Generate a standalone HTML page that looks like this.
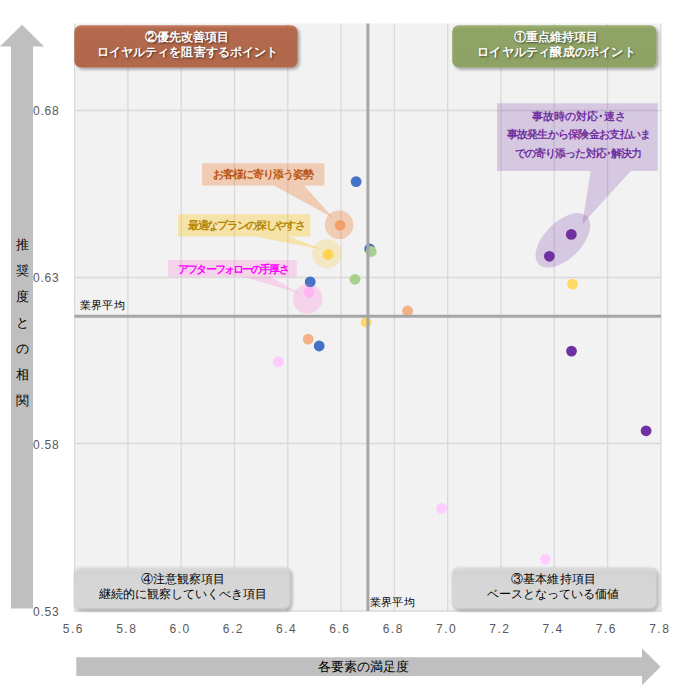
<!DOCTYPE html>
<html><head><meta charset="utf-8"><style>
html,body{margin:0;padding:0;background:#fff;}
body{width:686px;height:693px;position:relative;overflow:hidden;font-family:"Liberation Sans",sans-serif;}
.t{position:absolute;text-align:center;white-space:nowrap;}
svg{position:absolute;left:0;top:0;}
</style></head><body>
<svg width="686" height="693" viewBox="0 0 686 693">
<defs>
<filter id="sh" x="-10%" y="-30%" width="120%" height="170%">
<feDropShadow dx="2" dy="2" stdDeviation="1.8" flood-color="#000" flood-opacity="0.35"/>
</filter>
<linearGradient id="gO" x1="0" y1="0" x2="0" y2="1">
<stop offset="0" stop-color="#c47658"/><stop offset="0.08" stop-color="#b26546"/><stop offset="1" stop-color="#b06345"/>
</linearGradient>
<linearGradient id="gG" x1="0" y1="0" x2="0" y2="1">
<stop offset="0" stop-color="#9db070"/><stop offset="0.08" stop-color="#8ca261"/><stop offset="1" stop-color="#8ba060"/>
</linearGradient>
<filter id="bl1" x="-5%" y="-20%" width="110%" height="140%"><feGaussianBlur stdDeviation="1.1"/></filter>
<filter id="bl2" x="-5%" y="-20%" width="110%" height="140%"><feGaussianBlur stdDeviation="1.5"/></filter>
<linearGradient id="gGr" x1="0" y1="0" x2="0" y2="1">
<stop offset="0" stop-color="#dedede"/><stop offset="0.12" stop-color="#d2d2d2"/><stop offset="0.3" stop-color="#d6d6d6"/><stop offset="1" stop-color="#d8d8d8"/>
</linearGradient>
</defs>
<polygon points="22,24.8 44.2,46.6 33,46.6 33,608.6 11,608.6 11,46.6 -0.2,46.6" fill="#bfbfbf"/>
<polygon points="76.3,657.2 642,657.2 642,648.3 660.6,666.7 642,685.3 642,676 76.3,676" fill="#bfbfbf"/>
<rect x="74.5" y="23.5" width="586.5" height="587.5" fill="#f2f2f2"/>
<line x1="74.6" y1="23.5" x2="74.6" y2="611.5" stroke="#d9d9d9" stroke-width="1.3"/>
<line x1="127.9" y1="23.5" x2="127.9" y2="611.5" stroke="#d9d9d9" stroke-width="1.3"/>
<line x1="181.2" y1="23.5" x2="181.2" y2="611.5" stroke="#d9d9d9" stroke-width="1.3"/>
<line x1="234.5" y1="23.5" x2="234.5" y2="611.5" stroke="#d9d9d9" stroke-width="1.3"/>
<line x1="287.8" y1="23.5" x2="287.8" y2="611.5" stroke="#d9d9d9" stroke-width="1.3"/>
<line x1="341.1" y1="23.5" x2="341.1" y2="611.5" stroke="#d9d9d9" stroke-width="1.3"/>
<line x1="394.4" y1="23.5" x2="394.4" y2="611.5" stroke="#d9d9d9" stroke-width="1.3"/>
<line x1="447.7" y1="23.5" x2="447.7" y2="611.5" stroke="#d9d9d9" stroke-width="1.3"/>
<line x1="501.0" y1="23.5" x2="501.0" y2="611.5" stroke="#d9d9d9" stroke-width="1.3"/>
<line x1="554.3" y1="23.5" x2="554.3" y2="611.5" stroke="#d9d9d9" stroke-width="1.3"/>
<line x1="607.6" y1="23.5" x2="607.6" y2="611.5" stroke="#d9d9d9" stroke-width="1.3"/>
<line x1="660.9" y1="23.5" x2="660.9" y2="611.5" stroke="#d9d9d9" stroke-width="1.3"/>
<line x1="74" y1="110.5" x2="661.5" y2="110.5" stroke="#d9d9d9" stroke-width="1.3"/>
<line x1="74" y1="277.5" x2="661.5" y2="277.5" stroke="#d9d9d9" stroke-width="1.3"/>
<line x1="74" y1="443.5" x2="661.5" y2="443.5" stroke="#d9d9d9" stroke-width="1.3"/>
<line x1="74" y1="611" x2="661.5" y2="611" stroke="#d9d9d9" stroke-width="1.3"/>
<rect x="74.3" y="25.3" width="223.3" height="42.2" rx="6.5" fill="url(#gO)" fill-opacity="0.94" filter="url(#sh)"/>
<rect x="452.2" y="25.3" width="204.4" height="42.2" rx="6.5" fill="url(#gG)" fill-opacity="0.94" filter="url(#sh)"/>
<rect x="75.8" y="569.1" width="216.5" height="42" rx="6.5" fill="#000" fill-opacity="0.3" filter="url(#bl2)"/>
<rect x="74.3" y="567.1" width="216.5" height="42" rx="6.5" fill="url(#gGr)" filter="url(#bl1)"/>
<rect x="453.4" y="569.2" width="205.3" height="41.7" rx="6.5" fill="#000" fill-opacity="0.3" filter="url(#bl2)"/>
<rect x="451.9" y="567.2" width="205.3" height="41.7" rx="6.5" fill="url(#gGr)" filter="url(#bl1)"/>
<circle cx="356.1" cy="181.6" r="5.4" fill="#4472c4"/>
<circle cx="340.1" cy="225.3" r="5.4" fill="#f4b183"/>
<circle cx="369.7" cy="248.9" r="5.4" fill="#4472c4"/>
<circle cx="371.2" cy="251.5" r="5.4" fill="#a9d18e"/>
<circle cx="328.1" cy="254.4" r="5.4" fill="#ffd966"/>
<circle cx="355.0" cy="279.3" r="5.4" fill="#a9d18e"/>
<circle cx="310.2" cy="281.9" r="5.4" fill="#4472c4"/>
<circle cx="309.1" cy="292.4" r="5.4" fill="#ffccff"/>
<circle cx="407.6" cy="311.0" r="5.4" fill="#f4b183"/>
<circle cx="366.1" cy="322.2" r="5.4" fill="#ffd966"/>
<circle cx="308.2" cy="339.1" r="5.4" fill="#f4b183"/>
<circle cx="319.2" cy="346.0" r="5.4" fill="#4472c4"/>
<circle cx="278.3" cy="361.9" r="5.4" fill="#ffccff"/>
<circle cx="571.3" cy="234.4" r="5.4" fill="#7030a0"/>
<circle cx="549.4" cy="256.3" r="5.4" fill="#7030a0"/>
<circle cx="572.5" cy="284.1" r="5.4" fill="#ffd966"/>
<circle cx="571.5" cy="351.1" r="5.4" fill="#7030a0"/>
<circle cx="646.1" cy="430.8" r="5.4" fill="#7030a0"/>
<circle cx="441.7" cy="508.5" r="5.4" fill="#ffccff"/>
<circle cx="545.5" cy="559.3" r="5.4" fill="#ffccff"/>
<rect x="202" y="163.2" width="122.4" height="22.4" fill="#ed7d31" fill-opacity="0.32"/>
<polygon points="273.8,185.6 304.1,185.6 333.3,218" fill="#ed7d31" fill-opacity="0.32"/>
<circle cx="339.1" cy="224.8" r="14.3" fill="#ed7d31" fill-opacity="0.32"/>
<rect x="178.1" y="214.2" width="132.2" height="22.3" fill="#ffc000" fill-opacity="0.3"/>
<polygon points="254.8,236.5 289,236.5 323.3,249.8" fill="#ffc000" fill-opacity="0.3"/>
<circle cx="327.05" cy="253.6" r="14.7" fill="#ffc000" fill-opacity="0.19"/>
<rect x="168.1" y="260.2" width="128.6" height="16.5" fill="#ff66cc" fill-opacity="0.22"/>
<polygon points="242.5,276.7 270.6,276.7 299.1,293.2" fill="#ff66cc" fill-opacity="0.22"/>
<circle cx="307.7" cy="298.9" r="14.8" fill="#ff66cc" fill-opacity="0.22"/>
<rect x="497" y="103.3" width="160.7" height="67.6" fill="#7030a0" fill-opacity="0.22"/>
<polygon points="590.7,170.9 630.8,170.9 582.2,224.3" fill="#7030a0" fill-opacity="0.22"/>
<ellipse cx="562.9" cy="240.4" rx="34" ry="18.4" transform="rotate(-45 562.9 240.4)" fill="#7030a0" fill-opacity="0.22"/>
<line x1="74.5" y1="316.3" x2="661" y2="316.3" stroke="#a6a6a6" stroke-width="3"/>
<line x1="367.9" y1="23.5" x2="367.9" y2="611" stroke="#a6a6a6" stroke-width="3"/>
</svg>
<div class="t" style="left:-12.60px;top:31px;width:400px;font-size:12px;line-height:12px;color:#fff;font-weight:bold;letter-spacing:0px;text-shadow:1px 1px 2px rgba(0,0,0,0.55);">②優先改善項目</div>
<div class="t" style="left:-12.55px;top:46.3px;width:400px;font-size:12px;line-height:12px;color:#fff;font-weight:bold;letter-spacing:0.1px;text-shadow:1px 1px 2px rgba(0,0,0,0.55);">ロイヤルティを阻害するポイント</div>
<div class="t" style="left:355.70px;top:31px;width:400px;font-size:12px;line-height:12px;color:#fff;font-weight:bold;letter-spacing:0px;text-shadow:1px 1px 2px rgba(0,0,0,0.55);">①重点維持項目</div>
<div class="t" style="left:356.50px;top:46.3px;width:400px;font-size:12px;line-height:12px;color:#fff;font-weight:bold;letter-spacing:0.2px;text-shadow:1px 1px 2px rgba(0,0,0,0.55);">ロイヤルティ醸成のポイント</div>
<div class="t" style="left:-16.90px;top:572.6px;width:400px;font-size:12px;line-height:12px;color:#000;font-weight:normal;letter-spacing:0px;">④注意観察項目</div>
<div class="t" style="left:-16.90px;top:587.8px;width:400px;font-size:12px;line-height:12px;color:#000;font-weight:normal;letter-spacing:0px;">継続的に観察していくべき項目</div>
<div class="t" style="left:353.65px;top:572.6px;width:400px;font-size:12px;line-height:12px;color:#000;font-weight:normal;letter-spacing:0.3px;">③基本維持項目</div>
<div class="t" style="left:353.20px;top:587.8px;width:400px;font-size:12px;line-height:12px;color:#000;font-weight:normal;letter-spacing:0px;">ベースとなっている価値</div>
<div class="t" style="left:62.81px;top:169.1px;width:400px;font-size:10.5px;line-height:10.5px;color:#bb5410;font-weight:bold;letter-spacing:-0.98px;">お客様に寄り添う姿勢</div>
<div class="t" style="left:46.27px;top:220.2px;width:400px;font-size:10.5px;line-height:10.5px;color:#b38500;font-weight:bold;letter-spacing:-1.27px;">最適なプランの探しやすさ</div>
<div class="t" style="left:32.97px;top:264.0px;width:400px;font-size:10.5px;line-height:10.5px;color:#ff00ff;font-weight:bold;letter-spacing:-1.87px;">アフターフォローの手厚さ</div>
<div class="t" style="left:379.05px;top:111.3px;width:400px;font-size:10.5px;line-height:10.5px;color:#7030a0;font-weight:bold;letter-spacing:-0.1px;">事故時の対応･速さ</div>
<div class="t" style="left:378.43px;top:129.4px;width:400px;font-size:10.5px;line-height:10.5px;color:#7030a0;font-weight:bold;letter-spacing:-0.73px;">事故発生から保険金お支払いま</div>
<div class="t" style="left:378.04px;top:148.0px;width:400px;font-size:10.5px;line-height:10.5px;color:#7030a0;font-weight:bold;letter-spacing:-0.92px;">での寄り添った対応･解決力</div>
<div class="t" style="left:-97.55px;top:299.5px;width:400px;font-size:11px;line-height:11px;color:#000;font-weight:normal;letter-spacing:0.3px;">業界平均</div>
<div class="t" style="left:192.25px;top:597px;width:400px;font-size:11px;line-height:11px;color:#000;font-weight:normal;letter-spacing:0.3px;">業界平均</div>
<div class="t" style="left:163.40px;top:659.8px;width:400px;font-size:13px;line-height:13px;color:#000;font-weight:normal;letter-spacing:0px;">各要素の満足度</div>
<div class="t" style="left:-177.50px;top:237.6px;width:400px;font-size:13px;line-height:13px;color:#000;font-weight:normal;letter-spacing:0px;">推</div>
<div class="t" style="left:-177.50px;top:263.7px;width:400px;font-size:13px;line-height:13px;color:#000;font-weight:normal;letter-spacing:0px;">奨</div>
<div class="t" style="left:-177.50px;top:289.8px;width:400px;font-size:13px;line-height:13px;color:#000;font-weight:normal;letter-spacing:0px;">度</div>
<div class="t" style="left:-177.50px;top:315.9px;width:400px;font-size:13px;line-height:13px;color:#000;font-weight:normal;letter-spacing:0px;">と</div>
<div class="t" style="left:-177.50px;top:342.0px;width:400px;font-size:13px;line-height:13px;color:#000;font-weight:normal;letter-spacing:0px;">の</div>
<div class="t" style="left:-177.50px;top:368.1px;width:400px;font-size:13px;line-height:13px;color:#000;font-weight:normal;letter-spacing:0px;">相</div>
<div class="t" style="left:-177.50px;top:394.20000000000005px;width:400px;font-size:13px;line-height:13px;color:#000;font-weight:normal;letter-spacing:0px;">関</div>
<div class="t" style="left:-126.55px;top:622.5px;width:400px;font-size:12px;line-height:12px;color:#595959;font-weight:normal;letter-spacing:1.5px;">5.6</div>
<div class="t" style="left:-73.25px;top:622.5px;width:400px;font-size:12px;line-height:12px;color:#595959;font-weight:normal;letter-spacing:1.5px;">5.8</div>
<div class="t" style="left:-19.95px;top:622.5px;width:400px;font-size:12px;line-height:12px;color:#595959;font-weight:normal;letter-spacing:1.5px;">6.0</div>
<div class="t" style="left:33.35px;top:622.5px;width:400px;font-size:12px;line-height:12px;color:#595959;font-weight:normal;letter-spacing:1.5px;">6.2</div>
<div class="t" style="left:86.65px;top:622.5px;width:400px;font-size:12px;line-height:12px;color:#595959;font-weight:normal;letter-spacing:1.5px;">6.4</div>
<div class="t" style="left:139.95px;top:622.5px;width:400px;font-size:12px;line-height:12px;color:#595959;font-weight:normal;letter-spacing:1.5px;">6.6</div>
<div class="t" style="left:193.25px;top:622.5px;width:400px;font-size:12px;line-height:12px;color:#595959;font-weight:normal;letter-spacing:1.5px;">6.8</div>
<div class="t" style="left:246.55px;top:622.5px;width:400px;font-size:12px;line-height:12px;color:#595959;font-weight:normal;letter-spacing:1.5px;">7.0</div>
<div class="t" style="left:299.85px;top:622.5px;width:400px;font-size:12px;line-height:12px;color:#595959;font-weight:normal;letter-spacing:1.5px;">7.2</div>
<div class="t" style="left:353.15px;top:622.5px;width:400px;font-size:12px;line-height:12px;color:#595959;font-weight:normal;letter-spacing:1.5px;">7.4</div>
<div class="t" style="left:406.45px;top:622.5px;width:400px;font-size:12px;line-height:12px;color:#595959;font-weight:normal;letter-spacing:1.5px;">7.6</div>
<div class="t" style="left:459.75px;top:622.5px;width:400px;font-size:12px;line-height:12px;color:#595959;font-weight:normal;letter-spacing:1.5px;">7.8</div>
<div class="t" style="left:0px;width:59.5px;text-align:right;top:104.7px;font-size:12px;line-height:12px;color:#595959;letter-spacing:0.8px">0.68</div>
<div class="t" style="left:0px;width:59.5px;text-align:right;top:271.7px;font-size:12px;line-height:12px;color:#595959;letter-spacing:0.8px">0.63</div>
<div class="t" style="left:0px;width:59.5px;text-align:right;top:438.8px;font-size:12px;line-height:12px;color:#595959;letter-spacing:0.8px">0.58</div>
<div class="t" style="left:0px;width:59.5px;text-align:right;top:605.8px;font-size:12px;line-height:12px;color:#595959;letter-spacing:0.8px">0.53</div>
</body></html>
